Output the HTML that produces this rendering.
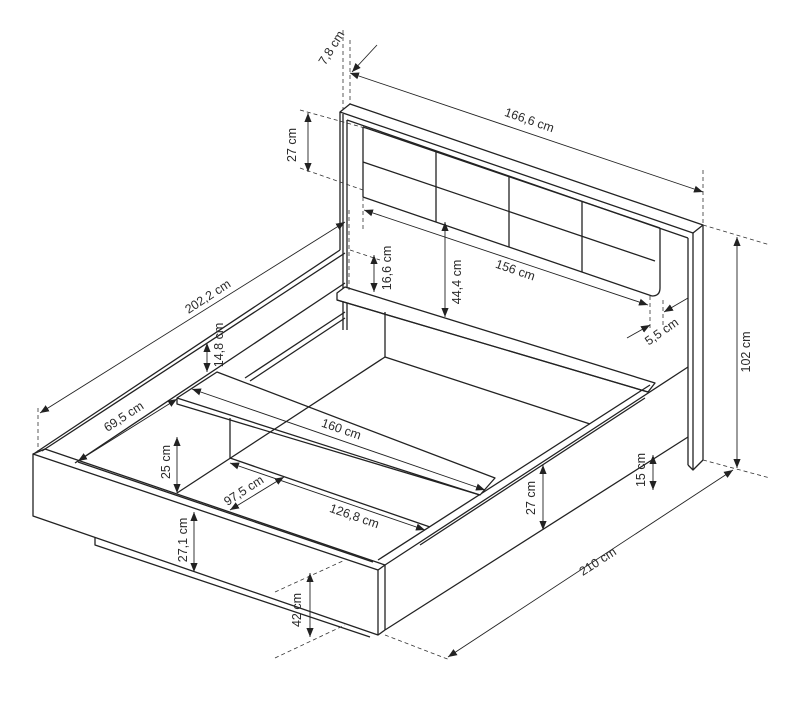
<!DOCTYPE html>
<html><head><meta charset="utf-8"><style>
html,body{margin:0;padding:0;background:#fff;}
svg{display:block;}
text{font-family:"Liberation Sans",sans-serif;font-size:12.5px;fill:#2a2a2a;}
</style></head><body>
<svg width="793" height="710" viewBox="0 0 793 710" xmlns="http://www.w3.org/2000/svg">
<defs>
<marker id="a" viewBox="0 0 10 10" refX="10" refY="5" markerWidth="9" markerHeight="9" orient="auto-start-reverse" markerUnits="userSpaceOnUse"><path d="M0,1 L10,5 L0,9 z" fill="#222"/></marker>
</defs>
<g fill="none" stroke="#222" stroke-width="1.3" stroke-linejoin="round">
<polygon points="340,112 350,104 703,225 693,233" fill="#fff"/>
<line x1="340" y1="112" x2="340" y2="250"/>
<line x1="343" y1="114" x2="343" y2="330"/>
<line x1="347" y1="120" x2="347" y2="330"/>
<line x1="347" y1="120" x2="688" y2="238"/>
<line x1="688" y1="238" x2="688" y2="465"/>
<line x1="693" y1="233" x2="693" y2="470"/>
<line x1="703" y1="225" x2="703" y2="460"/>
<polyline points="688,465 693,470 703,460"/>
<line x1="363" y1="127" x2="660" y2="228"/>
<line x1="363" y1="162" x2="655" y2="261"/>
<line x1="363" y1="197" x2="652" y2="296"/>
<line x1="363" y1="127" x2="363" y2="197"/>
<line x1="436" y1="152" x2="436" y2="222"/>
<line x1="509" y1="177" x2="509" y2="247"/>
<line x1="582" y1="202" x2="582" y2="272"/>
<path d="M660,228 L660,288 Q660,296 652,296"/>
<polygon points="337,293 345,287 655,383 648,392 337,300" fill="#fff"/>
<line x1="337" y1="300" x2="648" y2="392"/>
<line x1="385" y1="312" x2="385" y2="357"/>
<line x1="35" y1="453" x2="340" y2="250"/>
<line x1="42" y1="451" x2="345" y2="253"/>
<line x1="75" y1="463" x2="345" y2="283"/>
<line x1="245" y1="378" x2="345" y2="312"/>
<line x1="250" y1="381" x2="345" y2="318"/>
<polygon points="33,454 378,570 378,635 33,516" fill="#fff"/>
<line x1="33" y1="454" x2="45" y2="449"/>
<line x1="45" y1="449" x2="385" y2="565"/>
<line x1="78" y1="462" x2="373" y2="562"/>
<line x1="378" y1="570" x2="385" y2="565"/>
<line x1="385" y1="565" x2="385" y2="630"/>
<line x1="378" y1="635" x2="385" y2="630"/>
<polyline points="95,537 95,545 370,637"/>
<line x1="385" y1="565" x2="688" y2="367"/>
<line x1="378" y1="560" x2="650" y2="385"/>
<line x1="385" y1="630" x2="688" y2="437"/>
<line x1="420" y1="545" x2="645" y2="398"/>
<polygon points="177,398 217,372 495,478 480,495 177,404" fill="#fff"/>
<line x1="177" y1="398" x2="480" y2="495"/>
<line x1="230" y1="418" x2="230" y2="458"/>
<line x1="230" y1="458" x2="430" y2="527"/>
<line x1="177" y1="493" x2="385" y2="357"/>
<line x1="385" y1="357" x2="590" y2="424"/>
</g>
<g fill="none" stroke="#333" stroke-width="0.8" stroke-dasharray="4,3">
<line x1="343" y1="30" x2="343" y2="110"/>
<line x1="350" y1="40" x2="350" y2="104"/>
<line x1="703" y1="170" x2="703" y2="225"/>
<line x1="300" y1="110" x2="365" y2="128"/>
<line x1="300" y1="168" x2="363" y2="190"/>
<line x1="363" y1="197" x2="363" y2="230"/>
<line x1="38" y1="408" x2="38" y2="452"/>
<line x1="349" y1="210" x2="349" y2="290"/>
<line x1="350" y1="250" x2="380" y2="260"/>
<line x1="650" y1="296" x2="650" y2="330"/>
<line x1="663" y1="300" x2="663" y2="325"/>
<line x1="703" y1="225" x2="770" y2="245"/>
<line x1="703" y1="460" x2="770" y2="478"/>
<line x1="275" y1="592" x2="345" y2="560"/>
<line x1="275" y1="658" x2="345" y2="625"/>
<line x1="385" y1="635" x2="450" y2="660"/>
</g>
<g stroke="#222" stroke-width="0.9" fill="none">
<line x1="377" y1="45" x2="352" y2="72" marker-end="url(#a)"/>
<line x1="350" y1="73" x2="703" y2="192" marker-start="url(#a)" marker-end="url(#a)"/>
<line x1="308" y1="113" x2="308" y2="172" marker-start="url(#a)" marker-end="url(#a)"/>
<line x1="40" y1="413" x2="345" y2="222" marker-start="url(#a)" marker-end="url(#a)"/>
<line x1="374" y1="255" x2="374" y2="292" marker-start="url(#a)" marker-end="url(#a)"/>
<line x1="445" y1="222" x2="445" y2="317" marker-start="url(#a)" marker-end="url(#a)"/>
<line x1="364" y1="210" x2="648" y2="305" marker-start="url(#a)" marker-end="url(#a)"/>
<line x1="627" y1="338" x2="650" y2="325" marker-end="url(#a)"/>
<line x1="688" y1="298" x2="664" y2="312" marker-end="url(#a)"/>
<line x1="737" y1="237" x2="737" y2="468" marker-start="url(#a)" marker-end="url(#a)"/>
<line x1="207" y1="343" x2="207" y2="372" marker-start="url(#a)" marker-end="url(#a)"/>
<line x1="78" y1="461" x2="177" y2="399" marker-start="url(#a)" marker-end="url(#a)"/>
<line x1="192" y1="389" x2="485" y2="490" marker-start="url(#a)" marker-end="url(#a)"/>
<line x1="177" y1="437" x2="177" y2="493" marker-start="url(#a)" marker-end="url(#a)"/>
<line x1="230" y1="510" x2="284" y2="477" marker-start="url(#a)" marker-end="url(#a)"/>
<line x1="230" y1="463" x2="425" y2="530" marker-start="url(#a)" marker-end="url(#a)"/>
<line x1="194" y1="512" x2="194" y2="572" marker-start="url(#a)" marker-end="url(#a)"/>
<line x1="543" y1="465" x2="543" y2="530" marker-start="url(#a)" marker-end="url(#a)"/>
<line x1="653" y1="455" x2="653" y2="490" marker-start="url(#a)" marker-end="url(#a)"/>
<line x1="448" y1="657" x2="733" y2="470" marker-start="url(#a)" marker-end="url(#a)"/>
<line x1="310" y1="573" x2="310" y2="637" marker-start="url(#a)" marker-end="url(#a)"/>
</g>
<g text-anchor="middle">
<text transform="translate(335,50) rotate(-58)">7,8 cm</text>
<text transform="translate(528,124) rotate(19)">166,6 cm</text>
<text transform="translate(296,145) rotate(-90)">27 cm</text>
<text transform="translate(210,300) rotate(-33)">202,2 cm</text>
<text transform="translate(391,268) rotate(-90)">16,6 cm</text>
<text transform="translate(461,282) rotate(-90)">44,4 cm</text>
<text transform="translate(514,274) rotate(19)">156 cm</text>
<text transform="translate(664,335) rotate(-35)">5,5 cm</text>
<text transform="translate(750,352) rotate(-90)">102 cm</text>
<text transform="translate(223,345) rotate(-90)">14,8 cm</text>
<text transform="translate(126,420) rotate(-33)">69,5 cm</text>
<text transform="translate(340,433) rotate(19)">160 cm</text>
<text transform="translate(170,462) rotate(-90)">25 cm</text>
<text transform="translate(246,494) rotate(-33)">97,5 cm</text>
<text transform="translate(353,520) rotate(19)">126,8 cm</text>
<text transform="translate(187,540) rotate(-90)">27,1 cm</text>
<text transform="translate(535,498) rotate(-90)">27 cm</text>
<text transform="translate(645,470) rotate(-90)">15 cm</text>
<text transform="translate(600,565) rotate(-33)">210 cm</text>
<text transform="translate(301,610) rotate(-90)">42 cm</text>
</g>
</svg>
</body></html>
